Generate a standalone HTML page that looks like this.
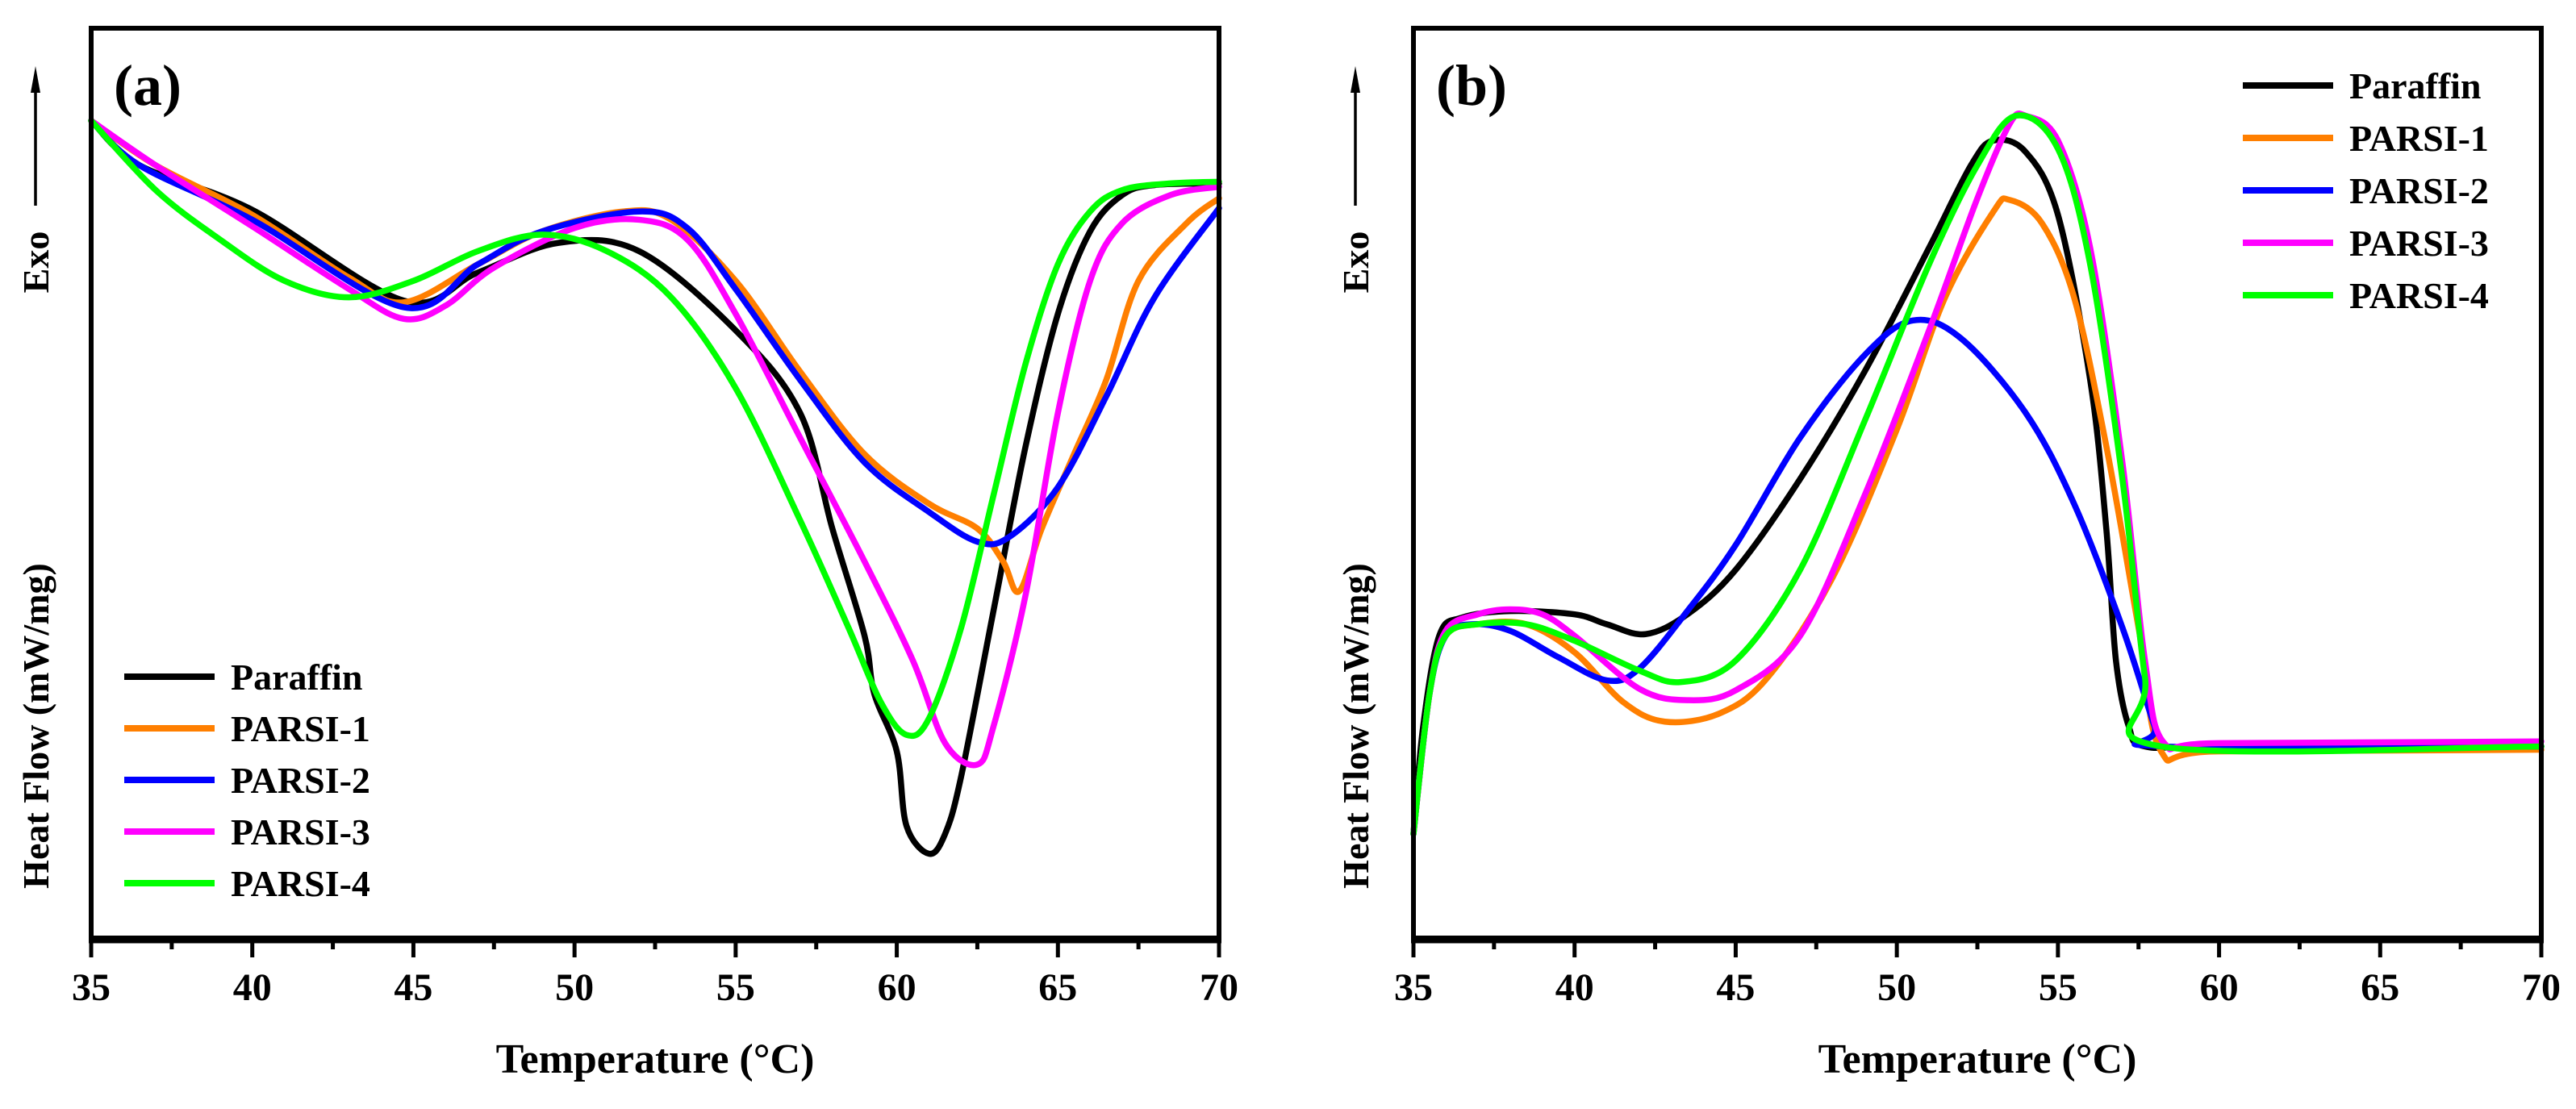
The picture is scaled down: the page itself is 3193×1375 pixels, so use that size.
<!DOCTYPE html>
<html><head><meta charset="utf-8"><style>
html,body{margin:0;padding:0;background:#fff;}
svg{display:block;font-family:"Liberation Serif",serif;font-weight:bold;}
</style></head><body>
<svg id="chart" width="3193" height="1375" viewBox="0 0 3193 1375"></svg>
<script>
// Shared axis data
const xTicks = [35, 40, 45, 50, 55, 60, 65, 70];
const seriesNames = ["Paraffin", "PARSI-1", "PARSI-2", "PARSI-3", "PARSI-4"];
const seriesColors = ["#000000", "#ff7f00", "#0000ff", "#ff00ff", "#00ff00"];

// Panel (a): heating curves, temperature (°C) and relative heat-flow depth (arb. units, larger = lower)
const aParaffinT = [35,36.5,40,44.7,47,49.5,52,55,57,58,59,59.3,60,60.3,61,61.5,62,63,64,65,66,67,68,70];
const aParaffinV = [73,100,127,182,165,147,152,200,250,320,385,420,455,500,517,505,470,370,270,190,140,118,112,111];
const aP1T = [35,37,40,43,44.7,47,49,51.5,53,55,57,59,61,62.5,63.3,63.8,64.5,65.5,66.5,67.5,69,70];
const aP1V = [73,100,130,168,183,160,140,128,133,170,225,275,305,320,340,358,320,275,230,170,135,120];
const aP2T = [35,36.5,40,44.7,47,49,52,53.5,55,57,59,61,62.5,63.5,65,66.5,68,70];
const aP2V = [73,100,133,186,160,140,128,138,175,230,280,310,328,325,295,240,180,126];
const aP3T = [35,37,40,43,44.7,46,47.5,50,52,53.5,55,57,59,60.5,61.5,62.5,63,64,65,66,67,68.5,70];
const aP3V = [73,100,137,175,193,185,162,138,133,145,190,265,340,400,450,463,440,360,250,170,135,118,113];
const aP4T = [35,37,39,41,43,45,47,49,51,53,55,57,58.5,59.5,60.3,61,62,63,64,65,66,67,68.5,70];
const aP4V = [73,115,145,170,180,170,152,142,152,180,235,315,380,425,445,435,380,300,220,160,128,115,111,110];

// Panel (b): cooling curves
const bParaffinT = [35,35.3,35.8,36.5,38,40,41,42.2,43.5,45,47,49,51,52.3,53,54,55,56,56.5,56.8,57.2,57.7,60,70];
const bParaffinV = [505,440,385,374,370,372,378,384,372,345,290,225,150,100,85,92,130,230,320,400,440,452,452,452];
const bP1T = [35,35.5,36,37,38.5,40,41.5,42.8,44.5,46,48,50,51.5,53,53.5,54.5,55.5,56.5,57.5,58.2,60,70];
const bP1V = [505,420,385,378,378,395,425,437,432,410,350,260,180,128,121,135,180,270,380,455,455,454];
const bP2T = [35,35.5,36,36.8,38,39.5,41,42,43.5,45,47,49,50.5,52,54,55.5,57,58,58.3,70];
const bP2V = [505,420,385,378,382,398,412,405,370,330,265,215,194,205,250,305,380,440,452,452];
const bP3T = [35,35.5,36,37,38,39,40,42,43.5,45,47,49,51,52.5,53.5,54,55,56,57,57.7,58.3,60,70];
const bP3V = [505,420,382,372,369,372,385,417,424,418,385,300,200,120,75,70,85,150,280,400,450,450,449];
const bP4T = [35,35.5,36,37,38.5,40,42,43.3,45,47,49,51,52.5,53.7,55,56,57,57.7,58.2,70];
const bP4V = [505,420,385,378,378,388,406,413,400,345,255,160,100,70,90,160,290,410,452,452];

const NS = "http://www.w3.org/2000/svg";
const svg = document.getElementById("chart");
function mk(tag, attrs, parent) {
  const e = document.createElementNS(NS, tag);
  for (const k in attrs) e.setAttribute(k, attrs[k]);
  (parent || svg).appendChild(e);
  return e;
}
function smoothPath(pts) {
  let d = "M" + pts[0][0] + "," + pts[0][1];
  for (let i = 0; i < pts.length - 1; i++) {
    const p0 = pts[i - 1] || pts[i], p1 = pts[i], p2 = pts[i + 1], p3 = pts[i + 2] || p2;
    const t = 0.5 / 3;
    const c1 = [p1[0] + (p2[0] - p0[0]) * t, p1[1] + (p2[1] - p0[1]) * t];
    const c2 = [p2[0] - (p3[0] - p1[0]) * t, p2[1] - (p3[1] - p1[1]) * t];
    d += " C" + c1[0] + "," + c1[1] + " " + c2[0] + "," + c2[1] + " " + p2[0] + "," + p2[1];
  }
  return d;
}

function panel(opts) {
  const g = mk("g", {});
  
  
  const x0 = opts.x0, x1 = opts.x1, top = 35, bottom = 1163;
  const xs = T => x0 + (T - 35) * (x1 - x0) / 35;
  const ys = v => top + (v - 17) * 2.047;

  // curves
  opts.series.forEach((s, i) => {
    const pts = s[0].map((T, j) => [xs(T), ys(s[1][j])]);
    const p = mk("path", {d: smoothPath(pts), fill: "none", stroke: seriesColors[i], "stroke-width": 7.5, "stroke-linejoin": "round", "stroke-linecap": "round"}, g);
    
    
  });

  // frame
  const fr = mk("rect", {x: x0, y: top, width: x1 - x0, height: bottom - top, fill: "none", stroke: "#000", "stroke-width": 6}, g);
  
  
  mk("line", {x1: x0 - 3, x2: x1 + 3, y1: bottom + 2, y2: bottom + 2, stroke: "#000", "stroke-width": 9}, g);

  // ticks
  for (let T = 35; T <= 70.01; T += 2.5) {
    const major = Math.abs(T % 5) < 0.01;
    const t = mk("line", {x1: xs(T), x2: xs(T), y1: bottom, y2: bottom + (major ? 24 : 14), stroke: "#000", "stroke-width": 5}, g);
    
    
  }
  xTicks.forEach(T => {
    const tx = mk("text", {x: xs(T), y: 1240, "text-anchor": "middle", "font-size": 48}, g);
    tx.textContent = T;
    
    
  });
  const xt = mk("text", {x: (x0 + x1) / 2, y: 1330, "text-anchor": "middle", "font-size": 52}, g);
  xt.textContent = "Temperature (°C)";
  
  

  // y labels
  const ax = opts.yLabelX;
  const exo = mk("text", {x: 0, y: 0, "text-anchor": "middle", "font-size": 46, transform: "translate(" + (ax + 16) + ",325) rotate(-90)"}, g);
  exo.textContent = "Exo";
  
  
  const arr = mk("line", {x1: ax, x2: ax, y1: 255, y2: 110, stroke: "#000", "stroke-width": 3.5}, g);
  
  
  mk("polygon", {points: (ax - 6) + ",115 " + (ax + 6) + ",115 " + ax + ",82", fill: "#000"}, g);
  const hf = mk("text", {x: 0, y: 0, "text-anchor": "middle", "font-size": 46, transform: "translate(" + (ax + 16) + ",900) rotate(-90)"}, g);
  hf.textContent = "Heat Flow (mW/mg)";
  
  

  // panel label
  const pl = mk("text", {x: x0 + 28, y: 130, "font-size": 72}, g);
  pl.textContent = opts.label;
  
  

  // legend
  seriesNames.forEach((n, i) => {
    const yy = opts.legY + i * opts.legStep;
    const lg = mk("g", {}, g);
    
    
    mk("line", {x1: opts.legX, x2: opts.legX + 112, y1: yy, y2: yy, stroke: seriesColors[i], "stroke-width": 8}, lg);
    const t = mk("text", {x: opts.legX + 132, y: yy + 16, "font-size": 46}, lg);
    t.textContent = n;
  });
}

panel({name: "panel-a", prefix: "a", x0: 113, x1: 1511, label: "(a)", yLabelX: 44, legX: 154, legY: 839, legStep: 64,
  series: [[aParaffinT, aParaffinV], [aP1T, aP1V], [aP2T, aP2V], [aP3T, aP3V], [aP4T, aP4V]]});
panel({name: "panel-b", prefix: "b", x0: 1752, x1: 3150, label: "(b)", yLabelX: 1680, legX: 2780, legY: 106, legStep: 65,
  series: [[bParaffinT, bParaffinV], [bP1T, bP1V], [bP2T, bP2V], [bP3T, bP3V], [bP4T, bP4V]]});
</script>
</body></html>
